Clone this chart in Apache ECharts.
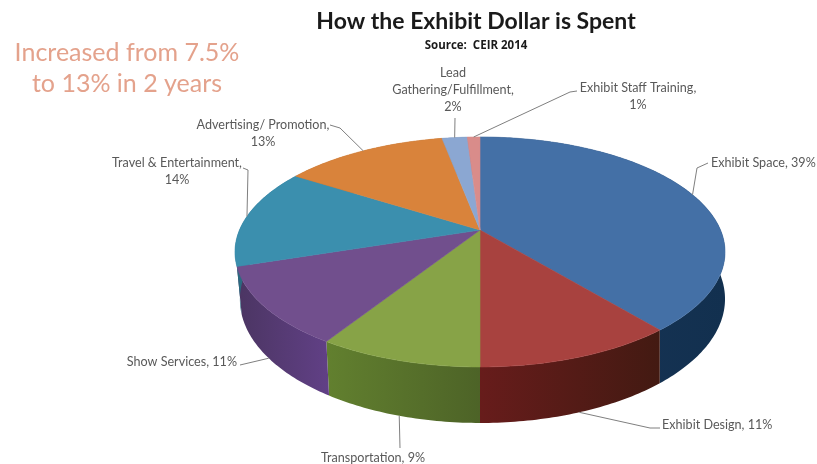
<!DOCTYPE html>
<html>
<head>
<meta charset="utf-8">
<style>html,body{margin:0;padding:0;background:#fff}#c{width:817px;height:464px;filter:blur(.45px)}</style>
<script src="https://cdn.jsdelivr.net/npm/echarts@6/dist/echarts.min.js"></script>
</head>
<body>
<div id="c"></div>
<script>
// ---- data ----
const categories = ['Exhibit Space','Exhibit Design','Transportation','Show Services','Travel & Entertainment','Advertising/ Promotion','Lead\nGathering/Fulfillment','Exhibit Staff Training'];
const shares = [39,11,9,11,14,13,2,1];
const topColors = ['#4470a6','#a8423f','#87a347','#714f8d','#3b8fae','#d9833b','#8ba7d2','#d98c8a'];
const sideLeft = ['#1a3658','#671c1b','#62802f','#4b3562','#2a6a80','#a05f28','#64799a','#a06664'];
const sideRight = ['#12304f','#431a12','#4d6327','#614086','#2a6a80','#a05f28','#64799a','#a06664'];
const twoLine = [false,false,false,false,true,true,true,true];

// ---- label layout: leader waypoints relative to the slice rim, text anchor ----
const leaderBends = [[[697,168],[708,163]],[[650,428],[660,428]],[[400,448]],[[240,365]],[[248,170],[243,168]],[[340,128],[330,125]],[[455,118]],[[570,92],[577,91]]];
const labelAt = [[711,163,'left'],[662,425,'left'],[373,458,'center'],[237,362,'right'],[177,171,'center'],[263,133,'center'],[453,90,'center'],[638,96,'center']];

// ---- perspective projection of the pie disc ----
const P = {cx:480, cy:230, A:240.5, B:110.8, k:0.191, D:45.3, leftPull:5};
function project(theta, drop){
  const u = Math.sin(theta), v = Math.cos(theta), w = 1 + P.k*v;
  const pull = drop && u<0 ? -u*P.leftPull : 0;
  return [P.cx + P.A*u/w + pull, P.cy - P.B*v/w + (drop ? P.D/w : 0)];
}
const total = shares.reduce((a,b)=>a+b,0);
function bounds(i){
  let s = 0; for(let j=0;j<i;j++) s += shares[j];
  return [s/total*2*Math.PI,(s+shares[i])/total*2*Math.PI];
}
function arc(t0,t1,drop){
  const n = Math.max(2,Math.ceil((t1-t0)/0.015)), pts=[];
  for(let i=0;i<=n;i++) pts.push(project(t0+(t1-t0)*i/n,drop));
  return pts;
}
function renderSide(params){
  const i = params.dataIndex, [t0,t1] = bounds(i);
  const top = arc(t0,t1,false), bot = arc(t0,t1,true).reverse();
  const fill = new echarts.graphic.LinearGradient(0,0,1,0,[{offset:0,color:sideLeft[i]},{offset:1,color:sideRight[i]}]);
  return {type:'polygon',shape:{points:top.concat(bot)},style:{fill:fill}};
}
function renderTop(params){
  const i = params.dataIndex, [t0,t1] = bounds(i);
  const pts = [[P.cx,P.cy]].concat(arc(t0,t1,false));
  return {type:'polygon',shape:{points:pts},style:{fill:topColors[i],stroke:topColors[i],lineWidth:0.6}};
}
function renderLabel(params){
  const i = params.dataIndex, [t0,t1] = bounds(i), mid=(t0+t1)/2;
  const start = project(mid, Math.cos(mid)<0);
  const [x,y,align] = labelAt[i];
  const text = categories[i] + ',' + (twoLine[i] ? '\n' : ' ') + shares[i] + '%';
  return {type:'group',children:[
    {type:'polyline',shape:{points:[start].concat(leaderBends[i])},style:{fill:null,stroke:'#7f7f7f',lineWidth:1}},
    {type:'text',style:{text:text,x:x,y:y,align:align,verticalAlign:'middle',fill:'#595959',font:'12.6px Lato',lineHeight:17}}
  ]};
}
const chart = echarts.init(document.getElementById('c'),null,{renderer:'canvas'});
chart.setOption({
  animation:false,
  backgroundColor:'#fff',
  title:[
    {text:'How the Exhibit Dollar is Spent',subtext:'Source:  CEIR 2014',left:471,top:4,textAlign:'center',itemGap:5,
     textStyle:{fontFamily:'Lato',fontWeight:'bold',fontSize:23,color:'#1a1a1a',lineHeight:26},
     subtextStyle:{fontFamily:'Open Sans',fontWeight:'bold',fontSize:11.5,color:'#1a1a1a'}},
    {text:'Increased from 7.5%\nto 13% in 2 years',left:122,top:32,textAlign:'center',
     textStyle:{fontFamily:'Lato',fontWeight:'normal',fontSize:25,color:'#e4a28c',lineHeight:31,align:'center'}}
  ],
  series:[
    {type:'custom',coordinateSystem:'none',silent:true,z:1,data:shares,renderItem:renderSide},
    {type:'custom',coordinateSystem:'none',silent:true,z:2,data:shares,renderItem:renderTop},
    {type:'custom',coordinateSystem:'none',silent:true,z:3,data:shares,renderItem:renderLabel}
  ]
});
</script>
</body>
</html>
